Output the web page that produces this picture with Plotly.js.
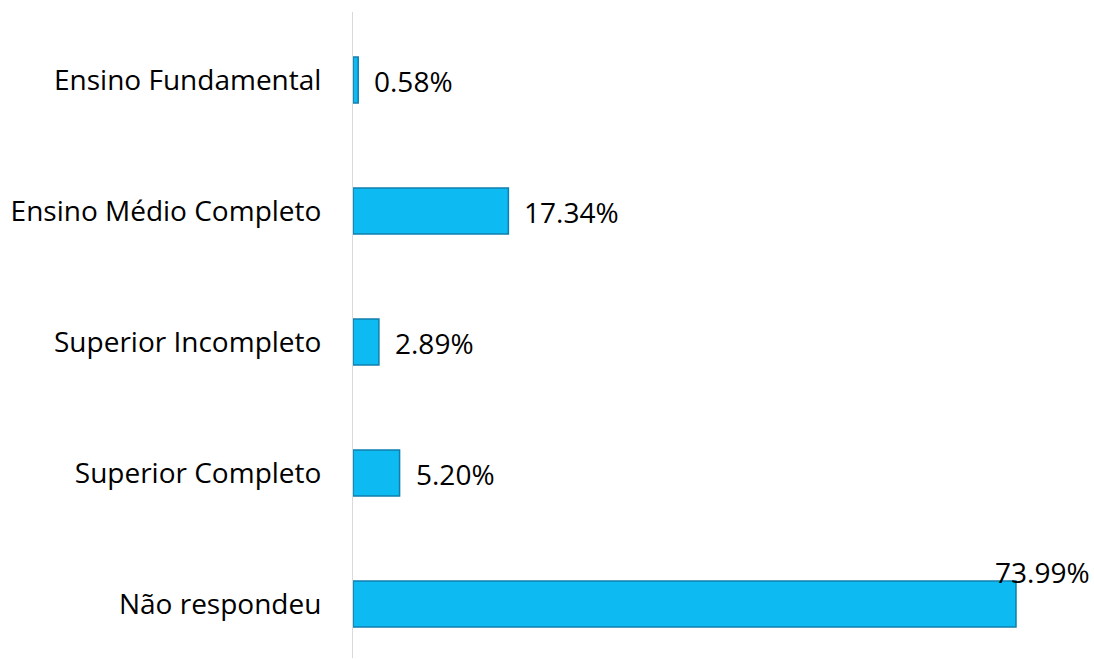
<!DOCTYPE html>
<html><head><meta charset="utf-8">
<script src="https://cdn.plot.ly/plotly-3.0.1.min.js"></script>
<style>html,body{margin:0;padding:0;background:#fff}#chart{width:1094px;height:659px}</style>
</head><body><div id="chart"></div>
<script>
const categories = ["Ensino Fundamental","Ensino Médio Completo","Superior Incompleto","Superior Completo","Não respondeu"];
const values = [0.58, 17.34, 2.89, 5.20, 73.99];
const labels = ["0.58%","17.34%","2.89%","5.20%","73.99%"];

const font = "'Open Sans', 'Noto Sans', sans-serif";

const trace = {
  type: "bar", orientation: "h",
  y: categories, x: values,
  width: 0.35,
  marker: {color: "#0DBAF2", line: {color: "#0F7FAD", width: 1.5}},
  hoverinfo: "x+y"
};

const annotations = labels.map((t, i) => {
  const last = i === labels.length - 1;
  return {
    x: values[i], y: categories[i], xref: "x", yref: "y",
    text: t, showarrow: false,
    xanchor: last ? "center" : "left",
    xshift: last ? 27 : 14,
    yshift: last ? 32 : -1,
    font: {family: font, size: 28, color: "#000"}
  };
});

const layout = {
  width: 1094, height: 659,
  margin: {l: 353, r: 10, t: 12, b: 1},
  paper_bgcolor: "#fff", plot_bgcolor: "#fff",
  showlegend: false,
  xaxis: {range: [0, 81.58], visible: false, showgrid: false, zeroline: false, fixedrange: true},
  yaxis: {
    range: [4.412, -0.519], showgrid: false, zeroline: false,
    showline: true, linecolor: "#D9D9D9", linewidth: 1,
    ticks: "", ticklabelstandoff: 25,
    tickfont: {family: font, size: 28, color: "#000"}
  },
  annotations: annotations
};

Plotly.newPlot("chart", [trace], layout, {displayModeBar: false, staticPlot: true});
</script></body></html>
